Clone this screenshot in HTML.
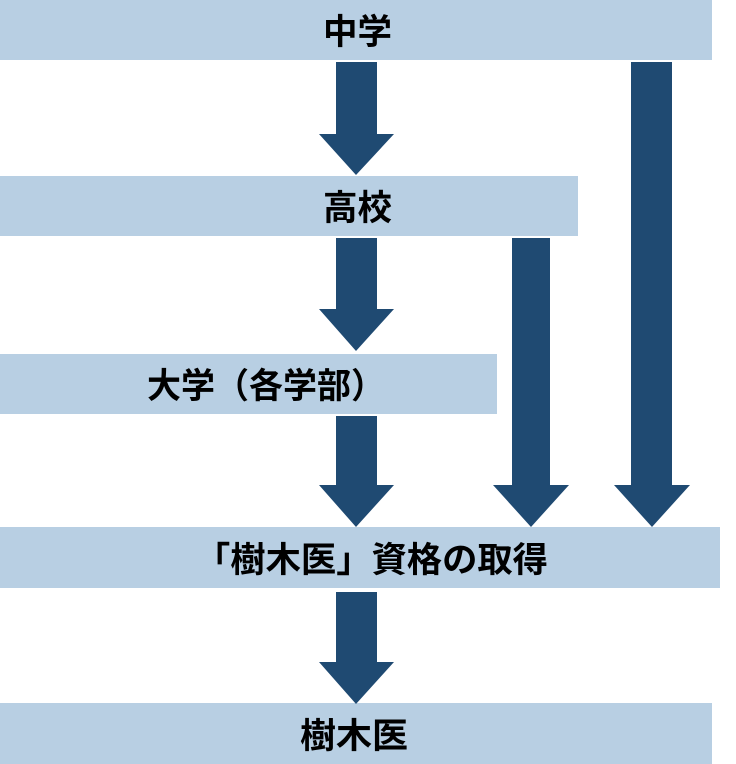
<!DOCTYPE html>
<html><head><meta charset="utf-8"><style>
html,body{margin:0;padding:0;background:#fff;}
svg{display:block;}
text{font-family:"Liberation Sans","Noto Sans CJK JP",sans-serif;font-weight:bold;font-size:35px;fill:#000;}
</style></head><body>
<svg width="736" height="764" viewBox="0 0 736 764" xmlns="http://www.w3.org/2000/svg">
<g fill="#b8cfe3">
<rect x="0" y="0" width="712" height="60"/>
<rect x="0" y="176" width="578" height="60"/>
<rect x="0" y="354" width="497" height="60"/>
<rect x="0" y="527" width="720" height="61"/>
<rect x="0" y="703" width="712" height="61"/>
</g>
<g fill="#1f4a72">
<polygon points="336,62 377,62 377,134 394,134 356,175 319,134 336,134"/>
<polygon points="336,238 377,238 377,309 394,309 356,351 319,309 336,309"/>
<polygon points="336,416 377,416 377,485 394,485 356,527 319,485 336,485"/>
<polygon points="336,592 377,592 377,662 394,662 356,704 319,662 336,662"/>
<polygon points="512,238 550,238 550,485 569,485 531,527 493,485 512,485"/>
<polygon points="631,62 672,62 672,485 690,485 652,527 614,485 631,485"/>
</g>
<text x="323" y="44" textLength="69" lengthAdjust="spacingAndGlyphs">中学</text>
<text x="323" y="220" textLength="69" lengthAdjust="spacingAndGlyphs">高校</text>
<text x="147" y="398" textLength="238" lengthAdjust="spacingAndGlyphs">大学（各学部）</text>
<text x="195" y="572" textLength="353" lengthAdjust="spacingAndGlyphs">「樹木医」資格の取得</text>
<text x="300" y="748" textLength="108" lengthAdjust="spacingAndGlyphs">樹木医</text>
</svg>
</body></html>
